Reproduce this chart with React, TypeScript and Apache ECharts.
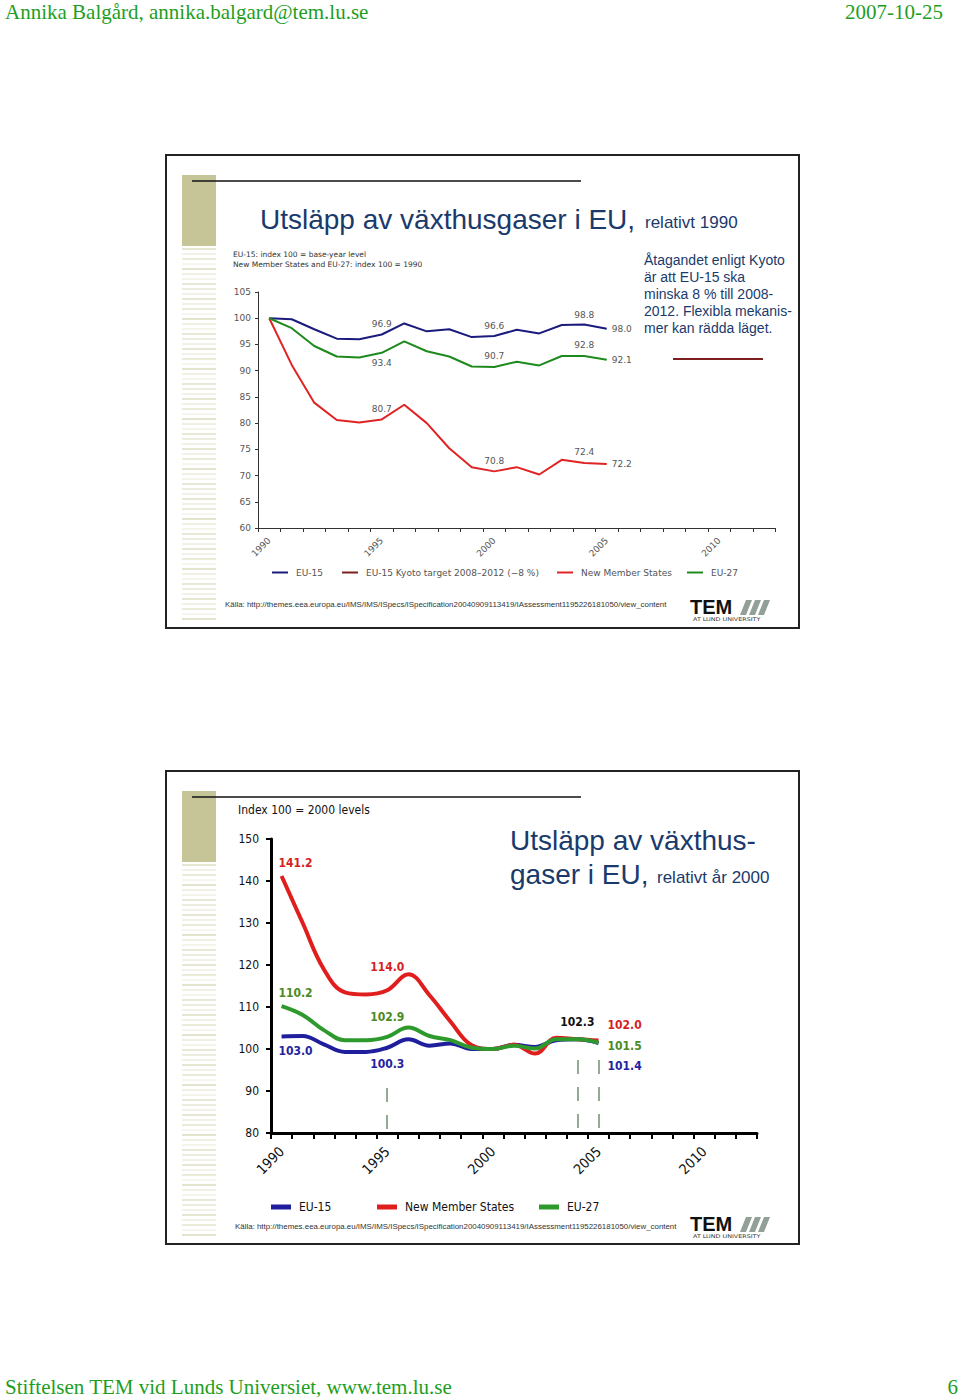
import React, { useEffect, useRef } from "react";
import * as echarts from "echarts";

// ---------- data ----------
const YEARS = [
  "1990", "1991", "1992", "1993", "1994", "1995", "1996", "1997", "1998", "1999", "2000", "2001",
  "2002", "2003", "2004", "2005", "2006", "2007", "2008", "2009", "2010", "2011", "2012",
];

// Slide 1: index 100 = 1990 / base year
const EU15_1990 = [100, 99.8, 97.9, 96.1, 96.0, 96.9, 99.0, 97.5, 97.9, 96.4, 96.6, 97.8, 97.1, 98.7, 98.8, 98.0];
const NMS_1990 = [100, 91.1, 83.9, 80.6, 80.1, 80.7, 83.5, 80.0, 75.2, 71.6, 70.8, 71.6, 70.2, 73.0, 72.4, 72.2];
const EU27_1990 = [100, 98.1, 94.7, 92.7, 92.5, 93.4, 95.6, 93.7, 92.7, 90.8, 90.7, 91.7, 91.0, 92.8, 92.8, 92.1];
const KYOTO_1990: number[] = [];

// Slide 2: index 100 = 2000 levels
const EU15_2000 = [103.0, 103.1, 101.1, 99.3, 99.3, 100.3, 102.3, 100.8, 101.3, 100.0, 100.0, 101.0, 100.5, 102.1, 102.3, 101.4];
const NMS_2000 = [141.2, 130.0, 119.0, 113.5, 113.0, 114.0, 117.8, 112.8, 106.5, 100.9, 100.0, 101.0, 98.9, 102.7, 102.3, 102.0];
const EU27_2000 = [110.2, 108.1, 104.5, 102.1, 102.1, 102.9, 105.1, 103.1, 102.1, 100.3, 100.0, 100.8, 100.1, 102.3, 102.3, 101.5];

// dashed vertical markers on slide 2 (year, top value)
const MARK_YEARS = ["1995", "2004", "2005"];
const MARK_TOPS = [90.7, 97.4, 97.4];

const Y1_MIN = 60, Y1_MAX = 105, Y1_STEP = 5;
const Y2_MIN = 80, Y2_MAX = 150, Y2_STEP = 10;

const NAME_EU15 = "EU-15";
const NAME_KYOTO = "EU-15 Kyoto target 2008–2012 (−8 %)";
const NAME_NMS = "New Member States";
const NAME_EU27 = "EU-27";

const SOURCE =
  "Källa: http://themes.eea.europa.eu/IMS/IMS/ISpecs/ISpecification20040909113419/IAssessment1195226181050/view_content";

// ---------- styles ----------
const C1 = { eu15: "#1b1b7d", nms: "#e02424", eu27: "#1e8a1e", kyoto: "#7b1f1f" };
const C2 = { eu15: "#1f1f9e", nms: "#e01e1e", eu27: "#2e9a2e" };
const L2 = { eu15: "#2424a0", nms: "#d61f1f", eu27: "#4b8b23" };
const NAVY = "#1a3a6b";
const GREEN = "#1e9e1e";
const fmt = (p: any) => Number(p.value).toFixed(1);

function withLabels(values: number[], map: Record<number, any>, base: any) {
  return values.map((v, i) =>
    map[i] ? { value: v, label: { show: true, formatter: fmt, ...base, ...map[i] } } : v
  );
}

const lab1 = { fontSize: 9, color: "#555", fontFamily: "DejaVu Sans" };
const lab2 = { fontSize: 12, fontWeight: "bold", fontFamily: "DejaVu Sans Condensed" };

const STRIPE_SHADES = [0.55, 0.3, 0.45, 0.2, 0.6, 0.35, 0.25, 0.5, 0.4, 0.3];

function slideDecor(dy: number, srcX: number, srcY: number, logoY: number): any[] {
  const els: any[] = [];
  els.push({
    type: "rect",
    shape: { x: 166, y: 155 + dy, width: 633, height: 473 },
    style: { fill: "rgba(0,0,0,0)", stroke: "#222", lineWidth: 2 },
  });
  els.push({ type: "rect", shape: { x: 182, y: 175 + dy, width: 34, height: 71 }, style: { fill: "#c6c597" } });
  for (let k = 0; k < 75; k++) {
    els.push({
      type: "rect",
      shape: { x: 182, y: 248 + dy + k * 5, width: 34, height: 2 },
      style: { fill: "#d2d2ae", opacity: STRIPE_SHADES[k % STRIPE_SHADES.length] },
    });
  }
  els.push({
    type: "line",
    shape: { x1: 192, y1: 181 + dy, x2: 581, y2: 181 + dy },
    style: { stroke: "#111", lineWidth: 1.5 },
  });
  els.push({
    type: "text",
    x: srcX,
    y: srcY,
    style: { text: SOURCE, fontSize: 7.9, fontFamily: "Liberation Sans", fill: "#333", textVerticalAlign: "middle" },
  });
  // TEM logo
  els.push({
    type: "text",
    x: 690,
    y: logoY,
    style: { text: "TEM", fontSize: 20, fontWeight: "bold", fontFamily: "Liberation Sans", fill: "#111", textVerticalAlign: "middle" },
  });
  [740, 749, 758].forEach((x0) => {
    els.push({
      type: "polygon",
      shape: { points: [[x0, logoY + 8], [x0 + 6, logoY + 8], [x0 + 12, logoY - 7], [x0 + 6, logoY - 7]] },
      style: { fill: "#93a098" },
    });
  });
  els.push({
    type: "text",
    x: 693,
    y: logoY + 12,
    scaleX: 1.28,
    style: { text: "AT LUND UNIVERSITY", fontSize: 5, fontFamily: "DejaVu Sans", fill: "#333", textVerticalAlign: "middle" },
  });
  return els;
}

function legendItem(left: number, top: number, name: string, color: string, big: boolean) {
  return {
    left,
    top,
    padding: 0,
    selectedMode: false,
    icon: "rect",
    itemWidth: big ? 20 : 16,
    itemHeight: big ? 5 : 2,
    textStyle: big
      ? { fontSize: 12, color: "#111", fontFamily: "DejaVu Sans Condensed", padding: [0, 0, 0, 3] }
      : { fontSize: 9, color: "#555", fontFamily: "DejaVu Sans", padding: [0, 0, 0, 3] },
    data: [{ name, itemStyle: { color } }],
  };
}

function buildOption(): any {
  const graphic: any[] = [
    {
      type: "text", x: 5, y: 12,
      style: { text: "Annika Balgård, annika.balgard@tem.lu.se", fontSize: 21, fontFamily: "Liberation Serif", fill: GREEN, textVerticalAlign: "middle" },
    },
    {
      type: "text", x: 943, y: 12,
      style: { text: "2007-10-25", fontSize: 21, fontFamily: "Liberation Serif", fill: GREEN, textAlign: "right", textVerticalAlign: "middle" },
    },
    {
      type: "text", x: 5, y: 1387,
      style: { text: "Stiftelsen TEM vid Lunds Universiet, www.tem.lu.se", fontSize: 21, fontFamily: "Liberation Serif", fill: GREEN, textVerticalAlign: "middle" },
    },
    {
      type: "text", x: 958, y: 1387,
      style: { text: "6", fontSize: 21, fontFamily: "Liberation Serif", fill: GREEN, textAlign: "right", textVerticalAlign: "middle" },
    },
    ...slideDecor(0, 225, 604, 607),
    ...slideDecor(616, 235, 1226, 1224),
    // slide 1 texts
    {
      type: "text", x: 260, y: 219,
      style: { text: "Utsläpp av växthusgaser i EU,", fontSize: 28, fontFamily: "Liberation Sans", fill: NAVY, textVerticalAlign: "middle" },
    },
    {
      type: "text", x: 645, y: 222,
      style: { text: "relativt 1990", fontSize: 17, fontFamily: "Liberation Sans", fill: NAVY, textVerticalAlign: "middle" },
    },
    {
      type: "text", x: 233, y: 254,
      style: { text: "EU-15: index 100 = base-year level", fontSize: 7.5, fontFamily: "DejaVu Sans", fill: "#333", textVerticalAlign: "middle" },
    },
    {
      type: "text", x: 233, y: 264,
      style: { text: "New Member States and EU-27: index 100 = 1990", fontSize: 7.5, fontFamily: "DejaVu Sans", fill: "#333", textVerticalAlign: "middle" },
    },
    {
      type: "text", x: 644, y: 251,
      style: {
        text: "Åtagandet enligt Kyoto\när att EU-15 ska\nminska 8 % till 2008-\n2012. Flexibla mekanis-\nmer kan rädda läget.",
        fontSize: 14, lineHeight: 17, fontFamily: "Liberation Sans", fill: NAVY, textVerticalAlign: "top",
      },
    },
    {
      type: "line",
      shape: { x1: 673, y1: 359, x2: 763, y2: 359 },
      style: { stroke: C1.kyoto, lineWidth: 2 },
    },
    // slide 2 texts
    {
      type: "text", x: 238, y: 810,
      style: { text: "Index 100 = 2000 levels", fontSize: 12, fontFamily: "DejaVu Sans Condensed", fill: "#111", textVerticalAlign: "middle" },
    },
    {
      type: "text", x: 510, y: 840,
      style: { text: "Utsläpp av växthus-", fontSize: 28, fontFamily: "Liberation Sans", fill: NAVY, textVerticalAlign: "middle" },
    },
    {
      type: "text", x: 510, y: 874,
      style: { text: "gaser i EU,", fontSize: 28, fontFamily: "Liberation Sans", fill: NAVY, textVerticalAlign: "middle" },
    },
    {
      type: "text", x: 657, y: 877,
      style: { text: "relativt år 2000", fontSize: 17, fontFamily: "Liberation Sans", fill: NAVY, textVerticalAlign: "middle" },
    },
  ];

  const ax1Label = { fontSize: 9, color: "#555", fontFamily: "DejaVu Sans" };
  const ax2Label = { fontSize: 12, color: "#111", fontFamily: "DejaVu Sans Condensed" };

  return {
    animation: false,
    backgroundColor: "#fff",
    graphic,
    grid: [
      { left: 258, top: 292, width: 517.5, height: 236 },
      { left: 271, top: 839, width: 486, height: 294 },
    ],
    xAxis: [
      {
        type: "category", gridIndex: 0, data: YEARS, boundaryGap: true,
        axisLine: { lineStyle: { color: "#333", width: 1 } },
        axisTick: { show: true, interval: 0, length: 4, lineStyle: { color: "#333" } },
        axisLabel: { ...ax1Label, interval: 4, rotate: 45, margin: 11 },
        splitLine: { show: false },
      },
      {
        type: "category", gridIndex: 1, data: YEARS, boundaryGap: true,
        axisLine: { lineStyle: { color: "#000", width: 3 } },
        axisTick: { show: true, interval: 0, length: 6, lineStyle: { color: "#000", width: 2 } },
        axisLabel: { ...ax2Label, fontSize: 14, interval: 4, rotate: 45, margin: 16 },
        splitLine: { show: false },
      },
    ],
    yAxis: [
      {
        type: "value", gridIndex: 0, min: Y1_MIN, max: Y1_MAX, interval: Y1_STEP,
        axisLine: { show: true, lineStyle: { color: "#333", width: 1 } },
        axisTick: { show: true, length: 3, lineStyle: { color: "#333" } },
        axisLabel: { ...ax1Label, margin: 7 },
        splitLine: { show: false },
      },
      {
        type: "value", gridIndex: 1, min: Y2_MIN, max: Y2_MAX, interval: Y2_STEP,
        axisLine: { show: true, lineStyle: { color: "#000", width: 3 } },
        axisTick: { show: true, length: 5, lineStyle: { color: "#000", width: 2 } },
        axisLabel: { ...ax2Label, margin: 12 },
        splitLine: { show: false },
      },
    ],
    legend: [
      legendItem(272, 568, NAME_EU15, C1.eu15, false),
      legendItem(342, 568, NAME_KYOTO, C1.kyoto, false),
      legendItem(557, 568, NAME_NMS, C1.nms, false),
      legendItem(687, 568, NAME_EU27, C1.eu27, false),
      legendItem(271, 1201, NAME_EU15, C2.eu15, true),
      legendItem(377, 1201, NAME_NMS, C2.nms, true),
      legendItem(539, 1201, NAME_EU27, C2.eu27, true),
    ],
    series: [
      // ---- slide 1 ----
      {
        name: NAME_EU15, type: "line", xAxisIndex: 0, yAxisIndex: 0,
        symbol: "circle", symbolSize: 0, showAllSymbol: true,
        lineStyle: { color: C1.eu15, width: 2 }, itemStyle: { color: C1.eu15 },
        label: { show: false },
        data: withLabels(EU15_1990, {
          5: { position: "top", distance: 6 },
          10: { position: "top", distance: 6 },
          14: { position: "top", distance: 5 },
          15: { position: "right", distance: 5 },
        }, lab1),
      },
      {
        name: NAME_KYOTO, type: "line", xAxisIndex: 0, yAxisIndex: 0,
        symbol: "none", lineStyle: { color: C1.kyoto, width: 2 }, itemStyle: { color: C1.kyoto },
        data: KYOTO_1990,
      },
      {
        name: NAME_NMS, type: "line", xAxisIndex: 0, yAxisIndex: 0,
        symbol: "circle", symbolSize: 0, showAllSymbol: true,
        lineStyle: { color: C1.nms, width: 2 }, itemStyle: { color: C1.nms },
        label: { show: false },
        data: withLabels(NMS_1990, {
          5: { position: "top", distance: 6 },
          10: { position: "top", distance: 6 },
          14: { position: "top", distance: 6 },
          15: { position: "right", distance: 5 },
        }, lab1),
      },
      {
        name: NAME_EU27, type: "line", xAxisIndex: 0, yAxisIndex: 0,
        symbol: "circle", symbolSize: 0, showAllSymbol: true,
        lineStyle: { color: C1.eu27, width: 2 }, itemStyle: { color: C1.eu27 },
        label: { show: false },
        data: withLabels(EU27_1990, {
          5: { position: "bottom", distance: 6 },
          10: { position: "top", distance: 6 },
          14: { position: "top", distance: 6 },
          15: { position: "right", distance: 5 },
        }, lab1),
      },
      // ---- slide 2 ----
      {
        name: NAME_EU15, type: "line", xAxisIndex: 1, yAxisIndex: 1, smooth: 0.4,
        symbol: "circle", symbolSize: 0, showAllSymbol: true,
        lineStyle: { color: C2.eu15, width: 4 }, itemStyle: { color: C2.eu15 },
        label: { show: false },
        data: withLabels(EU15_2000, {
          0: { position: "bottom", distance: 9, offset: [14, 0] },
          5: { position: "bottom", distance: 10 },
          15: { position: "right", distance: 9, offset: [0, 23] },
        }, { ...lab2, color: L2.eu15 }),
      },
      {
        name: NAME_NMS, type: "line", xAxisIndex: 1, yAxisIndex: 1, smooth: 0.4,
        symbol: "circle", symbolSize: 0, showAllSymbol: true,
        lineStyle: { color: C2.nms, width: 4 }, itemStyle: { color: C2.nms },
        label: { show: false },
        data: withLabels(NMS_2000, {
          0: { position: "top", distance: 7, offset: [14, 0] },
          5: { position: "top", distance: 17 },
          14: { position: "top", distance: 11, color: "#111" },
          15: { position: "right", distance: 9, offset: [0, -16] },
        }, { ...lab2, color: L2.nms }),
      },
      {
        name: NAME_EU27, type: "line", xAxisIndex: 1, yAxisIndex: 1, smooth: 0.4,
        symbol: "circle", symbolSize: 0, showAllSymbol: true,
        lineStyle: { color: C2.eu27, width: 4 }, itemStyle: { color: C2.eu27 },
        label: { show: false },
        data: withLabels(EU27_2000, {
          0: { position: "top", distance: 7, offset: [14, 0] },
          5: { position: "top", distance: 14 },
          15: { position: "right", distance: 9, offset: [0, 3] },
        }, { ...lab2, color: L2.eu27 }),
        markLine: {
          silent: true,
          symbol: ["none", "none"],
          label: { show: false },
          lineStyle: { color: "#6f916f", width: 1.5, type: [14, 13] },
          data: MARK_YEARS.map((yr, i) => [
            { coord: [yr, MARK_TOPS[i]] },
            { coord: [yr, Y2_MIN] },
          ]),
        },
      },
    ],
  };
}

export default function App() {
  const ref = useRef<HTMLDivElement>(null);
  useEffect(() => {
    if (!ref.current) return;
    const chart = echarts.init(ref.current, null, { renderer: "svg", width: 960, height: 1399 });
    chart.setOption(buildOption());
    return () => chart.dispose();
  }, []);
  return (
    <div
      ref={ref}
      style={{ position: "absolute", left: 0, top: 0, width: 960, height: 1399, background: "#fff" }}
    />
  );
}
